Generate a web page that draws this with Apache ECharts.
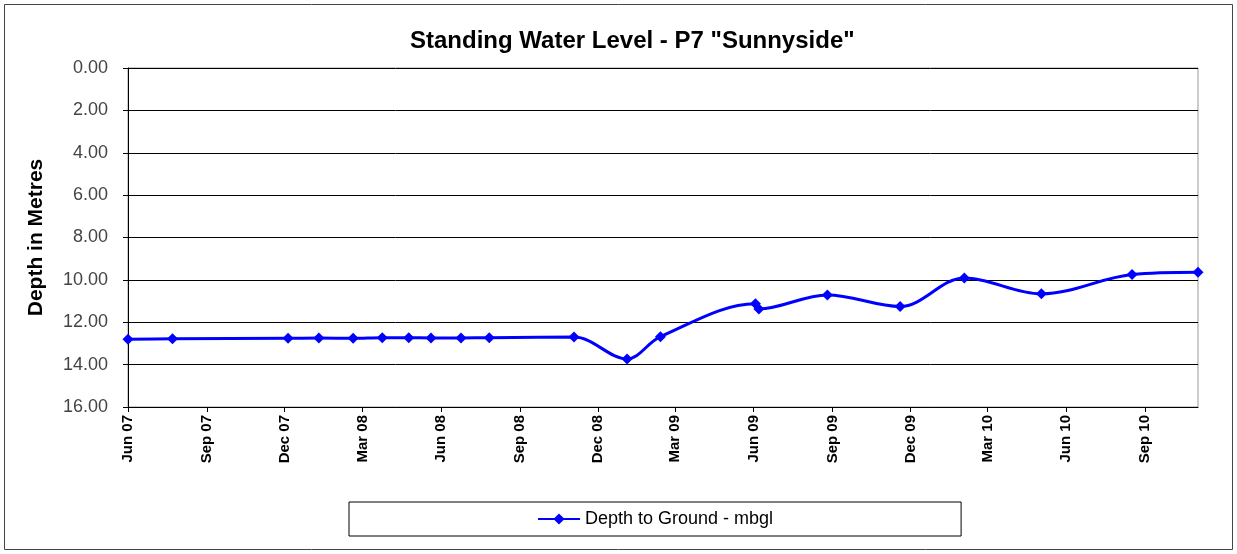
<!DOCTYPE html>
<html>
<head>
<meta charset="utf-8">
<style>
  html, body { margin: 0; padding: 0; background: #fff; }
  #main { width: 1237px; height: 554px; }
</style>
<script src="https://cdn.jsdelivr.net/npm/echarts@6/dist/echarts.min.js"></script>
</head>
<body>
<div id="main"></div>
<script>
var myChart = echarts.init(document.getElementById('main'));

// sample dates and depth readings (m below ground)
var dates = [
    '2007-06-01', '2007-07-23', '2007-12-05', '2008-01-10', '2008-02-19',
    '2008-03-24', '2008-04-24', '2008-05-20', '2008-06-24', '2008-07-27',
    '2008-11-03', '2009-01-04', '2009-02-12', '2009-06-03', '2009-06-07',
    '2009-08-26', '2009-11-19', '2010-02-02', '2010-05-03', '2010-08-17',
    '2010-11-02'
];
var depths = [
    12.80, 12.78, 12.76, 12.74, 12.76,
    12.73, 12.73, 12.74, 12.74, 12.73,
    12.70, 13.73, 12.68, 11.13, 11.37,
    10.71, 11.26, 9.91, 10.66, 9.75,
    9.64
];

// tick positions along the date axis, every three months
var tickDates = [
    '2007-06-01', '2007-09-01', '2007-12-01', '2008-03-01', '2008-06-01',
    '2008-09-01', '2008-12-01', '2009-03-01', '2009-06-01', '2009-09-01',
    '2009-12-01', '2010-03-01', '2010-06-01', '2010-09-01'
];
var monthNames = ['Jan', 'Feb', 'Mar', 'Apr', 'May', 'Jun',
                  'Jul', 'Aug', 'Sep', 'Oct', 'Nov', 'Dec'];

function toTime(s) {
    var p = s.split('-');
    return new Date(+p[0], +p[1] - 1, +p[2]).getTime();
}

var seriesData = dates.map(function (d, i) {
    return [toTime(d), depths[i]];
});
var ticks = tickDates.map(toTime);

var font = 'Liberation Sans, Arial, sans-serif';

var option = {
    backgroundColor: '#fff',
    animation: false,
    title: {
        text: 'Standing Water Level - P7 "Sunnyside"',
        left: 405,
        top: 24,
        textStyle: {
            fontFamily: font,
            fontSize: 24,
            fontWeight: 'bold',
            color: '#000'
        }
    },
    graphic: [{
        type: 'rect',
        shape: { x: 4.5, y: 4.5, width: 1228, height: 545 },
        style: { fill: 'none', stroke: '#444', lineWidth: 1 },
        silent: true
    }],
    legend: {
        left: 349,
        top: 502,
        padding: [8, 188, 8, 188],
        borderColor: '#000',
        borderWidth: 1,
        itemWidth: 42,
        itemHeight: 14,
        itemGap: 4,
        textStyle: {
            fontFamily: font,
            fontSize: 18,
            color: '#000'
        },
        data: ['Depth to Ground - mbgl']
    },
    grid: {
        left: 128,
        right: 39,
        top: 68,
        bottom: 147,
        show: true,
        borderColor: '#999',
        borderWidth: 1
    },
    xAxis: {
        type: 'value',
        min: toTime('2007-06-01'),
        max: toTime('2010-11-02'),
        axisLine: {
            onZero: false,
            lineStyle: { color: '#000', width: 1 }
        },
        axisTick: {
            show: true,
            customValues: ticks,
            length: 5,
            inside: false,
            lineStyle: { color: '#000' }
        },
        splitLine: { show: false },
        axisLabel: {
            customValues: ticks,
            rotate: 90,
            margin: 8,
            fontFamily: font,
            fontSize: 15,
            fontWeight: 'bold',
            color: '#000',
            formatter: function (v) {
                var d = new Date(v);
                var y = String(d.getFullYear() % 100);
                if (y.length < 2) y = '0' + y;
                return monthNames[d.getMonth()] + ' ' + y;
            }
        }
    },
    yAxis: {
        type: 'value',
        inverse: true,
        min: 0,
        max: 16,
        interval: 2,
        name: 'Depth in Metres',
        nameLocation: 'middle',
        nameGap: 81,
        nameRotate: 90,
        nameTextStyle: {
            fontFamily: font,
            fontSize: 21,
            fontWeight: 'bold',
            color: '#000'
        },
        axisLine: {
            show: true,
            lineStyle: { color: '#000', width: 1 }
        },
        axisTick: {
            show: true,
            length: 5,
            lineStyle: { color: '#000' }
        },
        splitLine: {
            show: true,
            lineStyle: { color: '#000', width: 1 }
        },
        axisLabel: {
            margin: 20,
            fontFamily: font,
            fontSize: 18,
            color: '#444',
            formatter: function (v) { return v.toFixed(2); }
        }
    },
    series: [{
        name: 'Depth to Ground - mbgl',
        type: 'line',
        smooth: 0.35,
        symbol: 'diamond',
        symbolSize: 11,
        lineStyle: { color: '#0000ff', width: 3 },
        itemStyle: { color: '#0000ff' },
        data: seriesData
    }]
};

myChart.setOption(option);
</script>
</body>
</html>
